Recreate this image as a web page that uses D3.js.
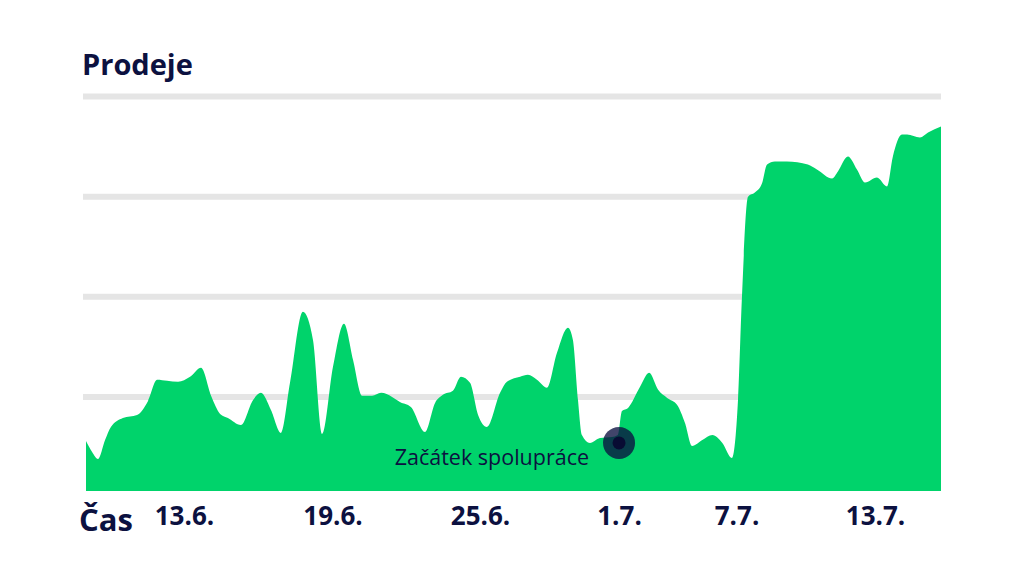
<!DOCTYPE html>
<html>
<head>
<meta charset="utf-8">
<script src="https://cdn.jsdelivr.net/npm/d3@7"></script>
<style>
  html, body { margin: 0; padding: 0; background: #ffffff; }
  svg { display: block; }
</style>
</head>
<body>
<svg id="chart" width="1024" height="576"></svg>
<script>
// ---- data ----
// time in days since 8.6. (fractional), sales values
const days = [0, 0.25, 0.49, 0.78, 1.02, 1.51, 2.09, 2.54, 2.91, 3.32, 3.77, 4.26, 4.71, 5.12, 5.49, 5.81,
  6.34, 6.84, 7.16, 7.57, 7.98, 8.35, 8.88, 9.29, 9.66, 10.11, 10.56, 10.93, 11.30, 11.71, 12.08, 12.53,
  12.85, 13.30, 13.88, 14.29, 14.61, 15.02, 15.35, 15.72, 16.05, 16.41, 16.95, 17.23, 17.77, 18.09, 18.46,
  18.87, 19.28, 19.73, 19.93, 20.14, 20.30, 20.63, 21.04, 21.53, 21.77, 21.94, 22.19, 22.68, 23.05, 23.42,
  23.79, 24.20, 24.52, 24.81, 25.23, 25.64, 26.05, 26.44, 26.69, 26.85, 27.10, 27.38, 27.67, 27.88, 28.20,
  28.69, 29.55, 29.92, 30.54, 30.78, 31.19, 31.56, 31.89, 32.38, 32.79, 33.03, 33.40, 33.61, 34.14, 34.47, 35.00];
const sales = [56, 45, 38, 57, 70, 79, 82, 96, 117, 116, 115, 120, 129, 101, 83, 79,
  72, 97, 104, 87, 64, 114, 185, 157, 63, 130, 173, 137, 101, 101, 104, 100,
  95, 90, 65, 94, 102, 106, 120, 114, 82, 70, 104, 115, 120, 122, 117,
  109, 144, 169, 157, 97, 62, 54, 59, 60, 62, 86, 89, 110, 124, 107,
  99, 92, 74, 51, 57, 62, 54, 39, 97, 199, 300, 304, 313, 332, 335,
  335, 332, 327, 318, 325, 340, 327, 314, 319, 310, 340, 362, 362, 359, 364, 370];
const tickLabels = ["13.6.", "19.6.", "25.6.", "1.7.", "7.7.", "13.7."];
const tickDays = [4.01, 10.09, 16.13, 21.82, 26.63, 32.30];
const gridValues = [100, 200, 300, 400];
const annotation = { day: 21.82, value: 54, label: "Začátek spolupráce" };
const titleText = "Prodeje";
const axisTitle = "Čas";

// ---- layout ----
const svg = d3.select("#chart");
const green = "#00d36b";
const navy = "#0c1140";
const plotLeft = 86, plotRight = 941, plotBottom = 491;

const x = d3.scaleLinear().domain([0, 35]).range([plotLeft, plotRight]);
const y = d3.scaleLinear().domain([0, 400]).range([497, 96.5]);

// gridlines
svg.append("g").selectAll("line").data(gridValues).join("line")
  .attr("x1", 83).attr("x2", plotRight)
  .attr("y1", d => y(d)).attr("y2", d => y(d))
  .attr("stroke", "#e5e5e5").attr("stroke-width", 6);

// clip
svg.append("defs").append("clipPath").attr("id", "plotclip")
  .append("rect").attr("x", plotLeft).attr("y", 0)
  .attr("width", plotRight - plotLeft).attr("height", plotBottom);

const pts = days.map((d, i) => ({ d, v: sales[i] }));
const area = d3.area()
  .x(p => x(p.d)).y0(y(0)).y1(p => y(p.v))
  .curve(d3.curveMonotoneX);

svg.append("path").datum(pts)
  .attr("d", area)
  .attr("fill", green)
  .attr("clip-path", "url(#plotclip)");

// annotation
svg.append("circle")
  .attr("cx", x(annotation.day)).attr("cy", y(annotation.value))
  .attr("r", 16).attr("fill", navy).attr("fill-opacity", 0.78);
svg.append("circle")
  .attr("cx", x(annotation.day)).attr("cy", y(annotation.value))
  .attr("r", 6.5).attr("fill", "#080c33");
svg.append("text")
  .attr("x", x(annotation.day) - 30).attr("y", y(annotation.value) + 22)
  .attr("text-anchor", "end")
  .attr("font-family", "'Open Sans', sans-serif")
  .attr("font-weight", 500)
  .attr("font-size", 21.5)
  .attr("fill", navy)
  .text(annotation.label);

// title
svg.append("text")
  .attr("x", 82).attr("y", 75)
  .attr("font-family", "'Open Sans', sans-serif")
  .attr("font-weight", 700).attr("font-size", 29)
  .attr("fill", navy)
  .text(titleText);

// x axis
const xAxis = d3.axisBottom(x)
  .tickValues(tickDays)
  .tickFormat((d, i) => tickLabels[i])
  .tickSize(0).tickPadding(0);
const gx = svg.append("g").attr("transform", `translate(0,${plotBottom})`).call(xAxis);
gx.select(".domain").remove();
gx.selectAll("text")
  .attr("dy", null).attr("y", 34)
  .attr("font-family", "'Open Sans', sans-serif")
  .attr("font-weight", 700).attr("font-size", 26)
  .attr("fill", navy);

svg.append("text")
  .attr("x", 79).attr("y", 531)
  .attr("font-family", "'Open Sans', sans-serif")
  .attr("font-weight", 700).attr("font-size", 31)
  .attr("fill", navy)
  .text(axisTitle);
</script>
</body>
</html>
